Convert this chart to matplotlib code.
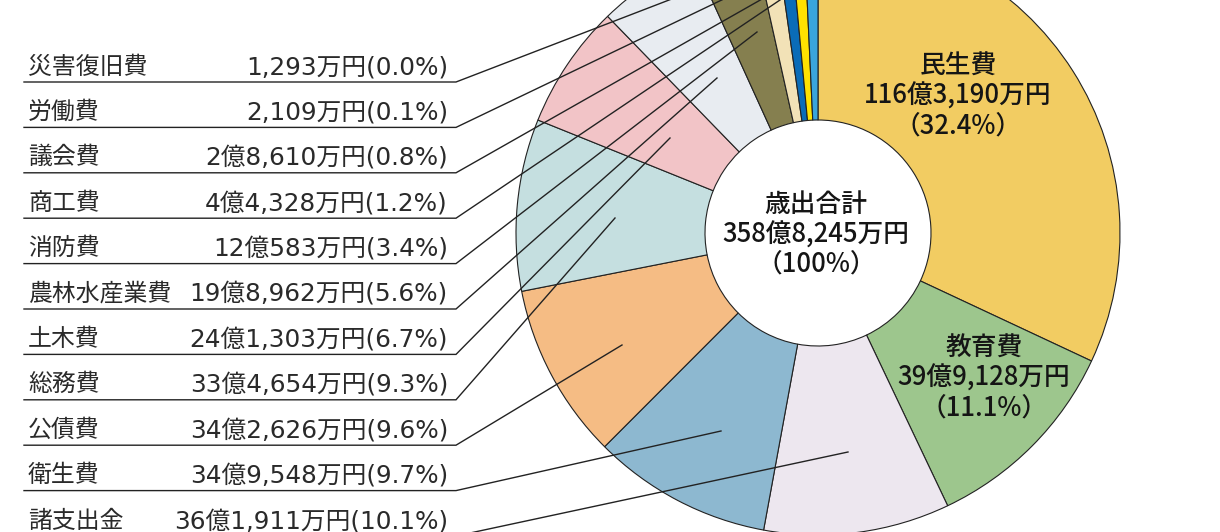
import numpy as np
import matplotlib
matplotlib.use("Agg")
import matplotlib.pyplot as plt

plt.rcParams['font.family'] = ['Noto Sans CJK JP', 'DejaVu Sans']

# 歳出 (万円), clockwise from 12 o'clock
names = ["民生費", "教育費", "諸支出金", "衛生費", "公債費", "総務費", "土木費",
         "農林水産業費", "消防費", "商工費", "議会費", "労働費", "災害復旧費"]
amounts = np.array([1163190, 399128, 361911, 349548, 342626, 334654, 241303,
                    198962, 120583, 44328, 28610, 2109, 1293])
amount_labels = ["116億3,190万円", "39億9,128万円", "36億1,911万円", "34億9,548万円",
                 "34億2,626万円", "33億4,654万円", "24億1,303万円", "19億8,962万円",
                 "12億583万円", "4億4,328万円", "2億8,610万円", "2,109万円", "1,293万円"]
shares = ["32.4%", "11.1%", "10.1%", "9.7%", "9.6%", "9.3%", "6.7%",
          "5.6%", "3.4%", "1.2%", "0.8%", "0.1%", "0.0%"]
colors = ["#F2CC62", "#9DC68D", "#EDE7EF", "#8DB8D0", "#F5BC84", "#C5DFE0", "#F2C4C7",
          "#E8ECF1", "#857F4F", "#F2E2B7", "#0A6CB8", "#FFE100", "#3AA5DC"]
total_label = "358億8,245万円"

# legend rows (top to bottom) -> index into the arrays above
legend_order = [12, 11, 10, 9, 8, 7, 6, 5, 4, 3, 2]
# where each leader line ends inside its slice (pixel coords)
leader_ends = [(812, -55), (803, -39), (792, -18), (780, 0), (757, 32), (717, 78),
               (670, 138), (615, 218), (622, 345), (721, 431), (848, 452)]

W, H = 1220, 532
fig = plt.figure(figsize=(W / 100, H / 100), dpi=100)
ax = fig.add_axes([0, 0, 1, 1])

cx, cy, R, r = 818, 233, 302, 113
# tiny slices are widened a little so they stay visible
shown = np.maximum(amounts, amounts.sum() * 0.0075)
ax.pie(shown, colors=colors, startangle=-90, counterclock=True,
       center=(cx, cy), radius=R,
       wedgeprops=dict(width=R - r, edgecolor="#222222", linewidth=0.8))

ax.set_xlim(0, W)
ax.set_ylim(H, 0)
ax.set_aspect("equal")
ax.axis("off")

big = dict(ha="center", va="center", fontsize=18.5, color="#151515", fontweight="medium")

# center total
ax.text(cx - 2, 205, "歳出合計", **big)
ax.text(cx - 2, 235, total_label, **big)
ax.text(cx - 2, 264, "（100%）", **big)

# labels inside the two big slices
for i, (x, y0) in zip([0, 1], [(958, 66), (984, 348)]):
    ax.text(x, y0, names[i], **big)
    ax.text(x, y0 + 30, amount_labels[i], **big)
    ax.text(x, y0 + 60, "（" + shares[i] + "）", **big)

# left legend with underline + leader line
row_h = 45.4
for k, (i, end) in enumerate(zip(legend_order, leader_ends)):
    uy = 82 + row_h * k
    ax.text(28, uy - 15, names[i], ha="left", va="center", fontsize=17.2, color="#2a2a2a")
    ax.text(448, uy - 15, amount_labels[i] + "(" + shares[i] + ")", ha="right", va="center",
            fontsize=17.8, color="#2a2a2a", family=["DejaVu Sans", "Noto Sans CJK JP"])
    ax.plot([24, 456, end[0]], [uy, uy, end[1]], color="#222222", lw=1.0,
            solid_joinstyle="miter", zorder=5)

fig.savefig("out.png", dpi=100)
